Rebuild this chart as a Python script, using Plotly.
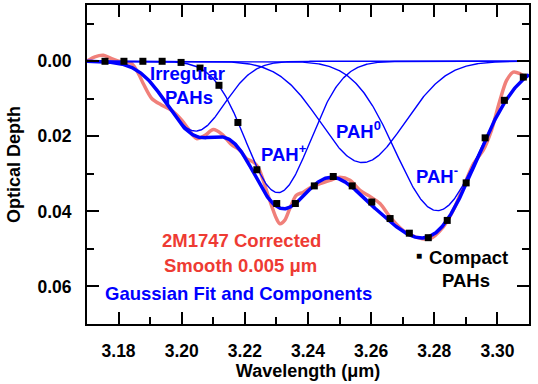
import numpy as np
import plotly.graph_objects as go

# ---- smoothed spectrum (2M1747 corrected, smooth 0.005 um) ----
wave_obs = [3.1700, 3.1725, 3.1752, 3.1778, 3.1810, 3.1841, 3.1863, 3.1878, 3.1905, 3.1937,
            3.1968, 3.2000, 3.2021, 3.2047, 3.2074, 3.2100, 3.2127, 3.2158, 3.2184, 3.2205,
            3.2226, 3.2242, 3.2258, 3.2279, 3.2300, 3.2311, 3.2326, 3.2342, 3.2363, 3.2385,
            3.2411, 3.2438, 3.2470, 3.2501, 3.2533, 3.2565, 3.2596, 3.2628, 3.2660, 3.2702,
            3.2744, 3.2786, 3.2828, 3.2860, 3.2892, 3.2924, 3.2955, 3.2981, 3.3008, 3.3029,
            3.3050, 3.3071, 3.3093]
depth_obs = [-0.0001, -0.0012, -0.0016, -0.0007, 0.0002, 0.0006, 0.0033, 0.0059, 0.0099, 0.0117,
             0.0131, 0.0157, 0.0180, 0.0206, 0.0197, 0.0182, 0.0194, 0.0222, 0.0237, 0.0259,
             0.0268, 0.0282, 0.0317, 0.0371, 0.0419, 0.0433, 0.0424, 0.0393, 0.0357, 0.0349,
             0.0335, 0.0326, 0.0317, 0.0309, 0.0317, 0.0344, 0.0360, 0.0379, 0.0415, 0.0451,
             0.0469, 0.0473, 0.0442, 0.0397, 0.0335, 0.0273, 0.0237, 0.0184, 0.0104, 0.0051,
             0.0029, 0.0033, 0.0046]

# ---- compact PAHs (black squares) ----
wave_compact = [3.1757, 3.1817, 3.1877, 3.1938, 3.1998, 3.2058, 3.2118, 3.2178, 3.2238, 3.2301,
                3.2360, 3.2420, 3.2480, 3.2540, 3.2602, 3.2660, 3.2721, 3.2781, 3.2841, 3.2901,
                3.2961, 3.3022, 3.3082]
depth_compact = [0.0000, 0.0000, 0.0000, 0.0000, 0.0003, 0.0018, 0.0064, 0.0163, 0.0289, 0.0379,
                 0.0379, 0.0332, 0.0307, 0.0332, 0.0375, 0.0419, 0.0458, 0.0470, 0.0424, 0.0324,
                 0.0204, 0.0104, 0.0042]

# ---- Gaussian components (center, peak depth, sigma) ----
comp_names = ["Irregular PAHs", "PAH+", "PAH0", "PAH-"]
comp_center = [3.2044, 3.2305, 3.2573, 3.2810]
comp_depth = [0.0186, 0.0350, 0.0270, 0.0398]
comp_sigma = [0.0092, 0.0102, 0.0133, 0.0132]

x_range = [3.17, 3.31]
y_range = [0.07, -0.015]

BLUE = "#0000FF"
RED_LINE = "#F0807A"
RED_TEXT = "#EE3B33"
FONT = "Arial, Liberation Sans, sans-serif"

wgrid = np.linspace(x_range[0], x_range[1], 600)
components = [d * np.exp(-((wgrid - c) ** 2) / (2 * s ** 2))
              for c, d, s in zip(comp_center, comp_depth, comp_sigma)]
fit = np.sum(components, axis=0)

fig = go.Figure()
fig.add_trace(go.Scatter(x=wave_obs, y=depth_obs, mode="lines",
                         line=dict(color=RED_LINE, width=3.5, shape="spline", smoothing=0.8),
                         name="2M1747 Corrected", showlegend=False))
for name, comp in zip(comp_names, components):
    fig.add_trace(go.Scatter(x=wgrid, y=comp, mode="lines",
                             line=dict(color=BLUE, width=1.4), name=name, showlegend=False))
fig.add_trace(go.Scatter(x=wgrid, y=fit, mode="lines",
                         line=dict(color=BLUE, width=3.5), name="Gaussian Fit", showlegend=False))
fig.add_trace(go.Scatter(x=wave_compact, y=depth_compact, mode="markers",
                         marker=dict(symbol="square", size=7, color="black"),
                         name="Compact PAHs", showlegend=False))

def ann(text, x, y, color, size=18.5, xanchor="center"):
    fig.add_annotation(x=x, y=y, xref="x", yref="y", text=text, showarrow=False,
                       xanchor=xanchor, yanchor="middle",
                       font=dict(family=FONT, size=size, color=color, weight="bold"))

ann("Irregular", 3.2018, 0.0033, BLUE)
ann("PAHs", 3.2023, 0.0097, BLUE)
ann("PAH<sup>+</sup>", 3.2245, 0.0244, BLUE, 18.5, "left")
ann("PAH<sup>0</sup>", 3.2483, 0.0182, BLUE, 18.5, "left")
ann("PAH<sup>-</sup>", 3.2737, 0.0302, BLUE, 18.5, "left")
ann("2M1747 Corrected", 3.2188, 0.0477, RED_TEXT)
ann("Smooth 0.005 μm", 3.2185, 0.0544, RED_TEXT)
ann("Gaussian Fit and Components", 3.2181, 0.0618, BLUE)
ann("■", 3.2750, 0.0518, "black", 10)
ann("Compact", 3.2777, 0.0522, "black", 18.5, "left")
ann("PAHs", 3.2901, 0.0583, "black", 18.5)

axis_common = dict(showline=True, linecolor="black", linewidth=2, mirror="ticks",
                   ticks="inside", ticklen=12, tickwidth=2, tickcolor="black",
                   showgrid=False, zeroline=False, automargin=False,
                   tickfont=dict(family=FONT, size=17.5, color="black", weight="bold"),
                   tickformat=".2f", ticklabelstandoff=10)

fig.update_xaxes(range=x_range, tick0=3.18, dtick=0.02,
                 minor=dict(ticks="inside", ticklen=7, tickwidth=2, tickcolor="black", dtick=0.01),
                 title=dict(text="Wavelength (μm)", standoff=4,
                            font=dict(family=FONT, size=18, color="black", weight="bold")),
                 **axis_common)
fig.update_yaxes(range=y_range, tick0=0.0, dtick=0.02,
                 minor=dict(ticks="inside", ticklen=7, tickwidth=2, tickcolor="black", dtick=0.01),
                 title=dict(text="Optical Depth", standoff=12,
                            font=dict(family=FONT, size=18, color="black", weight="bold")),
                 **axis_common)

fig.update_layout(width=538, height=384, margin=dict(l=87, r=9, t=5, b=60, autoexpand=False),
                  plot_bgcolor="white", paper_bgcolor="white", showlegend=False)

fig.write_html("out.html", config={"displayModeBar": False},
               post_script="document.body.style.margin='0';document.body.style.overflow='hidden';")
